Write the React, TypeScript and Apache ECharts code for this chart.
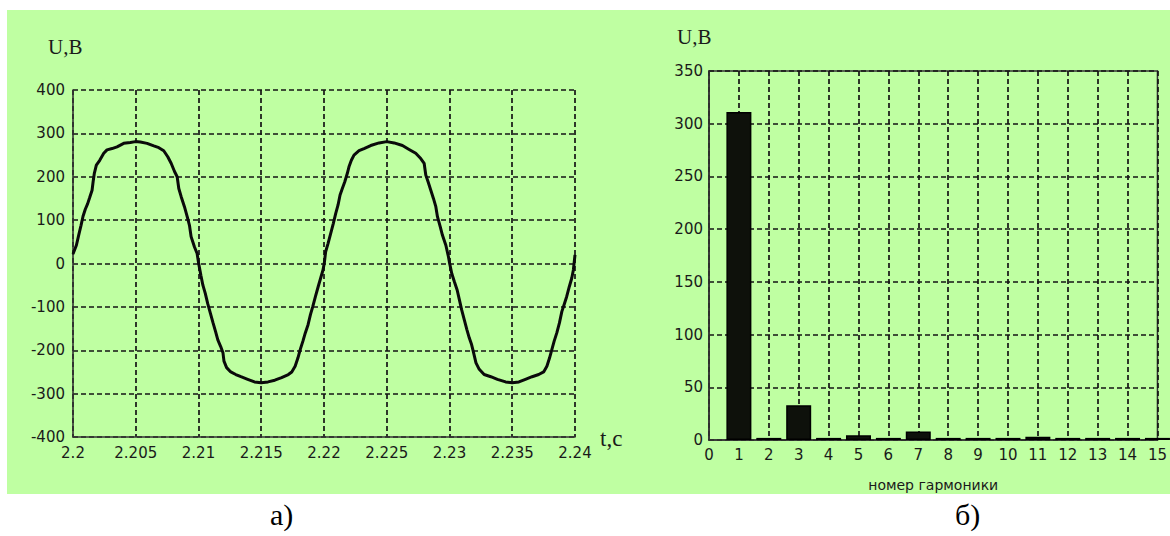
import React, { useEffect, useRef } from "react";
import * as echarts from "echarts";

// Left chart: voltage waveform (time in s, voltage in V)
const timeValues = [
  2.2, 2.20027, 2.20045, 2.20064, 2.2008, 2.20098, 2.20117, 2.20133, 2.20152, 2.2016,
  2.2017, 2.20186, 2.20213, 2.20245, 2.20271, 2.20311, 2.20351, 2.20404, 2.20457, 2.20497,
  2.20537, 2.2059, 2.20644, 2.20684, 2.20723, 2.20755, 2.20782, 2.20809, 2.2083, 2.20843,
  2.20862, 2.20888, 2.2091, 2.20928, 2.20941, 2.20968, 2.20989, 2.21,
  2.21019, 2.21035, 2.21054, 2.21073, 2.21095, 2.21116, 2.21135, 2.21154, 2.21176, 2.21195,
  2.21203, 2.21224, 2.21257, 2.21297, 2.21338, 2.21392, 2.21446, 2.215, 2.21554, 2.21608,
  2.21662, 2.21716, 2.21743, 2.2177, 2.21792, 2.21811, 2.21832, 2.21851, 2.21873, 2.21892,
  2.21911, 2.21932, 2.21954, 2.21973, 2.21992, 2.22003,
  2.22013, 2.22032, 2.22053, 2.22074, 2.22093, 2.22112, 2.22128, 2.22146, 2.22165, 2.22186,
  2.22199, 2.22218, 2.22239, 2.22279, 2.22319, 2.22372, 2.22439, 2.225, 2.22559, 2.22625,
  2.22678, 2.22731, 2.22771, 2.22798, 2.22811, 2.2283, 2.22851, 2.22872, 2.22891, 2.22904,
  2.22926, 2.22944, 2.22971, 2.22992, 2.23,
  2.23018, 2.23039, 2.23061, 2.23079, 2.23097, 2.23118, 2.23139, 2.23158, 2.23176, 2.23189,
  2.23211, 2.23237, 2.23276, 2.23329, 2.23382, 2.23447, 2.235, 2.23553, 2.23605, 2.23658,
  2.23711, 2.2375, 2.23776, 2.23797, 2.23816, 2.23834, 2.23855, 2.23876, 2.23895, 2.23913,
  2.23934, 2.23955, 2.23974, 2.23987, 2.24,
];
const voltageValues = [
  22, 42, 65, 88, 109, 125, 138, 152, 169, 188,
  208, 227, 238, 254, 262, 265, 269, 277, 279, 281,
  280, 277, 271, 267, 260, 246, 231, 212, 200, 173,
  154, 131, 108, 88, 62, 38, 23, 2,
  -27, -50, -69, -92, -115, -137, -156, -176, -191, -206,
  -225, -240, -250, -256, -261, -267, -273, -275, -273, -269,
  -263, -256, -250, -237, -218, -198, -179, -160, -141, -118,
  -99, -76, -53, -34, -15, 2,
  27, 46, 69, 92, 115, 135, 158, 173, 188, 208,
  223, 238, 250, 260, 265, 272, 278, 281, 278, 272,
  263, 254, 242, 231, 204, 188, 169, 150, 131, 108,
  85, 65, 42, 15, 2,
  -23, -42, -61, -84, -107, -130, -153, -172, -187, -202,
  -229, -244, -256, -261, -267, -273, -275, -273, -267, -261,
  -256, -250, -237, -218, -198, -179, -160, -137, -111, -95,
  -76, -53, -34, -15, 20,
];

// Right chart: harmonic spectrum
const harmonicNumbers = [1, 2, 3, 4, 5, 6, 7, 8, 9, 10, 11, 12, 13, 14, 15];
const harmonicAmplitudes = [311, 2, 33, 2, 4.5, 2, 8, 2, 2, 2, 3, 2, 2, 2, 2];

const labelFont = "'DejaVu Sans', sans-serif";
const serifFont = "'Liberation Serif', 'DejaVu Serif', serif";
const textColor = "#1a1a1a";
const gridDash = { type: [5, 3] as number[], color: "#151515", width: 1.7 };

export default function App() {
  const ref = useRef<HTMLDivElement>(null);
  useEffect(() => {
    if (!ref.current) return;
    const chart = echarts.init(ref.current, null, { renderer: "svg" });
    const lineData = timeValues.map((t, i) => [t, voltageValues[i]]);
    const barData = harmonicNumbers.map((n, i) => [n, harmonicAmplitudes[i]]);
    const fmtX = (v: number) => String(parseFloat(v.toFixed(3)));
    chart.setOption({
      animation: false,
      backgroundColor: "#ffffff",
      graphic: [
        {
          type: "rect",
          z: -10,
          silent: true,
          shape: { x: 7, y: 10, width: 1163, height: 484 },
          style: { fill: "#BFFFA2" },
        },
        { type: "text", x: 48, y: 36, style: { text: "U,B", font: `21px ${serifFont}`, fill: textColor } },
        { type: "text", x: 600, y: 427, style: { text: "t,c", font: `23px ${serifFont}`, fill: textColor } },
        { type: "text", x: 677, y: 26, style: { text: "U,B", font: `21px ${serifFont}`, fill: textColor } },
        { type: "text", x: 270, y: 499, style: { text: "а)", font: `30px ${serifFont}`, fill: "#000" } },
        { type: "text", x: 955, y: 499, style: { text: "б)", font: `30px ${serifFont}`, fill: "#000" } },
      ],
      grid: [
        { left: 73, top: 90, width: 502, height: 347, show: false },
        {
          left: 709, top: 71, width: 454, height: 369, show: true,
          borderColor: "#333", borderWidth: 1.5, backgroundColor: "transparent",
        },
      ],
      xAxis: [
        {
          gridIndex: 0, type: "value", min: 2.2, max: 2.24, interval: 0.005,
          axisLine: { show: true, onZero: false, lineStyle: { color: "#333", width: 1.6 } },
          axisTick: { show: false },
          axisLabel: { formatter: fmtX, color: textColor, fontFamily: labelFont, fontSize: 15, margin: 8 },
          splitLine: { show: true, lineStyle: gridDash },
        },
        {
          gridIndex: 1, type: "value", min: 0, max: 15, interval: 1,
          axisLine: { show: true, onZero: false, lineStyle: { color: "#333", width: 1.6 } },
          axisTick: { show: false },
          axisLabel: { color: textColor, fontFamily: labelFont, fontSize: 15, margin: 7 },
          splitLine: { show: true, lineStyle: gridDash },
          name: "номер гармоники",
          nameLocation: "middle",
          nameGap: 38,
          nameTextStyle: { color: textColor, fontFamily: labelFont, fontSize: 14 },
        },
      ],
      yAxis: [
        {
          gridIndex: 0, type: "value", min: -400, max: 400, interval: 100,
          axisLine: { show: true, onZero: false, lineStyle: { color: "#333", width: 1.6 } },
          axisTick: { show: false },
          axisLabel: { color: textColor, fontFamily: labelFont, fontSize: 15, margin: 8 },
          splitLine: { show: true, lineStyle: gridDash },
        },
        {
          gridIndex: 1, type: "value", min: 0, max: 350, interval: 50,
          axisLine: { show: true, onZero: false, lineStyle: { color: "#333", width: 1.6 } },
          axisTick: { show: false },
          axisLabel: { color: textColor, fontFamily: labelFont, fontSize: 15, margin: 6 },
          splitLine: { show: true, lineStyle: gridDash },
        },
      ],
      series: [
        {
          type: "line",
          xAxisIndex: 0,
          yAxisIndex: 0,
          data: lineData,
          showSymbol: false,
          lineStyle: { color: "#0a0a0a", width: 3 },
          z: 5,
        },
        {
          type: "bar",
          xAxisIndex: 1,
          yAxisIndex: 1,
          data: barData,
          barWidth: 25,
          itemStyle: { color: "#0e110b", borderColor: "#000", borderWidth: 1.5 },
          z: 5,
        },
      ],
    });
    return () => chart.dispose();
  }, []);
  return (
    <div
      ref={ref}
      style={{ position: "fixed", left: 0, top: 0, width: 1170, height: 536 }}
    />
  );
}
